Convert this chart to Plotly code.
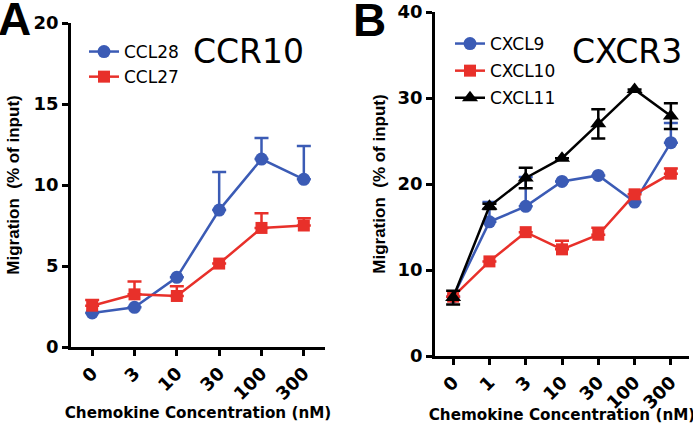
import plotly.graph_objects as go

# Panel A data
conc_a = ["0", "3", "10", "30", "100", "300"]
ccl28 = [2.1, 2.45, 4.3, 8.45, 11.6, 10.35]
ccl28_err = [0.0, 0.0, 0.0, 2.35, 1.3, 2.05]
ccl27 = [2.55, 3.25, 3.15, 5.15, 7.35, 7.5]
ccl27_err = [0.35, 0.8, 0.6, 0.0, 0.9, 0.45]

# Panel B data
conc_b = ["0", "1", "3", "10", "30", "100", "300"]
cxcl9 = [6.9, 15.6, 17.4, 20.3, 21.0, 17.9, 24.8]
cxcl9_err = [0.0, 2.3, 3.4, 0.0, 0.0, 0.0, 2.3]
cxcl10 = [6.9, 11.0, 14.4, 12.4, 14.1, 18.8, 21.2]
cxcl10_err = [0.0, 0.0, 0.0, 1.0, 0.8, 0.0, 0.6]
cxcl11 = [6.8, 17.4, 20.7, 23.0, 27.0, 31.0, 27.9]
cxcl11_err = [0.8, 0.3, 1.2, 0.0, 1.7, 0.0, 1.5]

BLUE = "#3b5bb5"
RED = "#e8302a"
BLACK = "#000000"
FONT = "Liberation Sans, Arial, sans-serif"
WIDE = "DejaVu Sans, sans-serif"

fig = go.Figure()

def add(x, y, err, name, color, symbol, size, xa, ya, legend, symmetric=False):
    fig.add_trace(go.Scatter(
        x=x, y=y, name=name, mode="lines+markers",
        line=dict(color=color, width=2.5),
        marker=dict(color=color, symbol=symbol, size=size),
        error_y=dict(type="data", array=err, symmetric=symmetric,
                     arrayminus=(err if symmetric else [0] * len(err)),
                     color=color, thickness=2.5, width=7),
        xaxis=xa, yaxis=ya, legend=legend, legendgroup=name,
    ))

add(conc_a, ccl28, ccl28_err, "CCL28", BLUE, "circle", 13, "x", "y", "legend")
add(conc_a, ccl27, ccl27_err, "CCL27", RED, "square", 12, "x", "y", "legend")
add(conc_b, cxcl9, cxcl9_err, "CXCL9", BLUE, "circle", 13, "x2", "y2", "legend2")
add(conc_b, cxcl10, cxcl10_err, "CXCL10", RED, "square", 12, "x2", "y2", "legend2")
add(conc_b, cxcl11, cxcl11_err, "CXCL11", BLACK, "triangle-up", 14, "x2", "y2", "legend2", symmetric=True)

W, H = 693, 424

def px(X):
    return X / W

def py(Y):
    return 1 - Y / H

axis_common = dict(
    showgrid=False, zeroline=False, showline=True, linecolor="black", linewidth=2.5,
    ticks="outside", ticklen=6, tickwidth=2.5, tickcolor="black", automargin=False,
    tickfont=dict(family=WIDE, size=18, color="black", weight="bold"),
)
xtitle_font = dict(family=WIDE, size=15.2, weight="bold", color="black")
ytitle_font = dict(family=FONT, size=17, weight="bold", color="black")

fig.update_layout(
    width=W, height=H,
    margin=dict(l=0, r=0, t=0, b=0, autoexpand=False),
    plot_bgcolor="white", paper_bgcolor="white",
    font=dict(family=FONT, color="black"),
    xaxis=dict(**axis_common, domain=[px(71), px(325)], type="category",
               range=[-0.5, 5.5], tickangle=-45, anchor="y",
               title=dict(text="Chemokine Concentration (nM)", font=xtitle_font, standoff=4)),
    yaxis=dict(**axis_common, domain=[py(347), py(23)], range=[0, 20],
               tickvals=[0, 5, 10, 15, 20], anchor="x",
               title=dict(text="Migration  (% of input)", font=ytitle_font, standoff=10)),
    xaxis2=dict(**axis_common, domain=[px(435), px(689)], type="category",
                range=[-0.5, 6.5], tickangle=-45, anchor="y2",
                title=dict(text="Chemokine Concentration (nM)", font=xtitle_font, standoff=4)),
    yaxis2=dict(**axis_common, domain=[py(356), py(12)], range=[0, 40],
                tickvals=[0, 10, 20, 30, 40], anchor="x2",
                title=dict(text="Migration  (% of input)", font=ytitle_font, standoff=8)),
    legend=dict(x=px(84), y=py(34), xanchor="left", yanchor="top",
                font=dict(family=WIDE, size=17, color="black"), itemwidth=30,
                bgcolor="rgba(0,0,0,0)", traceorder="grouped", tracegroupgap=0),
    legend2=dict(x=px(450), y=py(26), xanchor="left", yanchor="top",
                 font=dict(family=WIDE, size=17, color="black"), itemwidth=30,
                 bgcolor="rgba(0,0,0,0)", traceorder="grouped", tracegroupgap=2),
    showlegend=True,
)

annots = [
    dict(text="A", x=px(-4), y=py(-9), xanchor="left", yanchor="top",
         font=dict(size=46, weight="bold")),
    dict(text="B", x=px(351), y=py(-8), xanchor="left", yanchor="top",
         font=dict(size=46, weight="bold")),
    dict(text="CCR10", x=px(248), y=py(52), xanchor="center", yanchor="middle",
         font=dict(size=33, family=WIDE)),
    dict(text="CXCR3", x=px(627), y=py(52), xanchor="center", yanchor="middle",
         font=dict(size=33, family=WIDE)),
]
for a in annots:
    a.update(xref="paper", yref="paper", showarrow=False)
    a["font"].setdefault("family", FONT)
    a["font"]["color"] = "black"
fig.update_layout(annotations=annots)

fig.write_html("out.html", config={"displayModeBar": False},
               post_script="document.body.style.margin='0px';")
